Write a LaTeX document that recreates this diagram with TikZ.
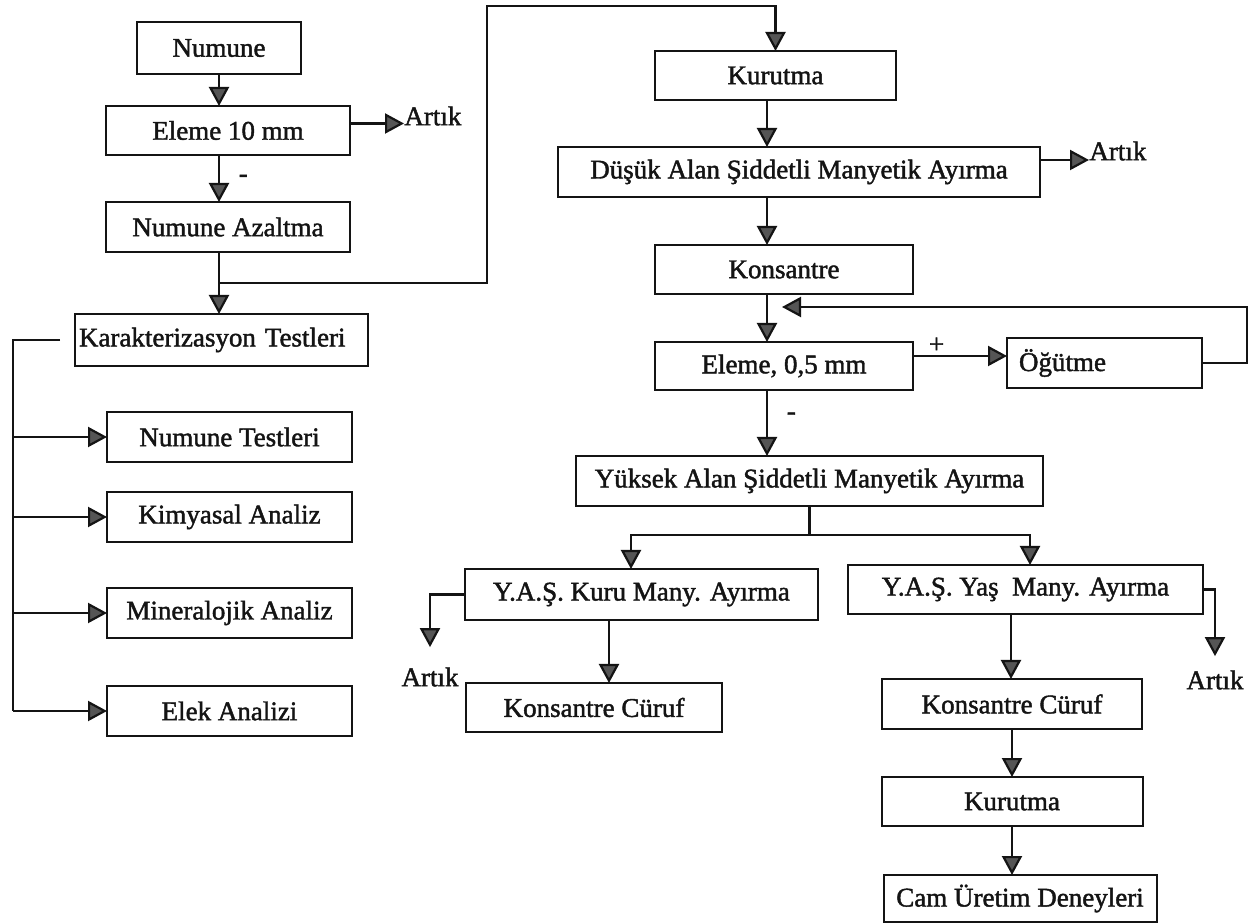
\documentclass[tikz,border=0pt]{standalone}
\usepackage{fontspec}
\setmainfont{Liberation Serif}[FakeBold=1.6]
\usepackage{xcolor}
\definecolor{ink}{HTML}{141414}
\definecolor{tipc}{HTML}{555555}
\usetikzlibrary{arrows.meta,positioning}

\begin{document}
\begin{tikzpicture}[x=0.5pt,y=-0.5pt,every node/.style={font=\fontsize{13.5}{16}\selectfont,text=ink}]
\tikzstyle{box}=[draw=ink,line width=1pt,fill=white,inner sep=2pt,outer sep=0pt,minimum height=25pt,align=center]
\tikzstyle{flow}=[-{Triangle[width=10pt,length=9.5pt,fill=tipc]},draw=ink,line width=1.1pt]
\tikzstyle{wire}=[draw=ink,line width=1.1pt]
\fill[white] (0,0) rectangle (1248,924);
\useasboundingbox (0,0) rectangle (1248,924);
\node[box,minimum width=82pt,minimum height=26pt] (numune) at (219,48) {Numune};
\node[box,minimum width=122pt,minimum height=24.5pt,below=16pt of numune,xshift=4.5pt] (eleme) {Eleme 10 mm};
\node[box,minimum width=122pt,below=23.5pt of eleme] (azaltma) {Numune Azaltma};
\node[box,text width=142.5pt,align=left,minimum height=26pt,below=31pt of azaltma,xshift=-3.25pt] (karakter) {Karakterizasyon Testleri};
\node[box,minimum width=122.5pt,below=23pt of karakter,xshift=4pt] (testleri) {Numune Testleri};
\node[box,minimum width=122.5pt,below=15pt of testleri] (kimyasal) {Kimyasal Analiz};
\node[box,minimum width=122.5pt,below=23pt of kimyasal] (mineral) {Mineralojik Analiz};
\node[box,minimum width=122.5pt,below=24pt of mineral] (elek) {Elek Analizi};
\node[box,minimum width=120.5pt,minimum height=24.5pt] (kurutma) at (775.5,75.5) {Kurutma};
\node[box,minimum width=241pt,below=23.5pt of kurutma,xshift=11.75pt] (dusuk) {Düşük Alan Şiddetli Manyetik Ayırma};
\node[box,minimum width=129pt,minimum height=24.5pt,below=24pt of dusuk,xshift=-7.5pt] (konsantre) {Konsantre};
\node[box,minimum width=129pt,minimum height=24pt,below=24pt of konsantre] (elemeince) {Eleme, 0,5 mm};
\node[box,text width=85.5pt,align=left,inner xsep=6pt,right=47pt of elemeince,yshift=1.5pt] (ogutme) {Öğütme};
\node[box,minimum width=233.5pt,below=33pt of elemeince,xshift=12.75pt] (yuksek) {Yüksek Alan Şiddetli Manyetik Ayırma};
\node[box,minimum width=176.5pt,minimum height=25.5pt,below=31.5pt of yuksek,xshift=-84pt] (kuru) {Y.A.Ş. Kuru Many. Ayırma};
\node[box,minimum width=177.5pt,minimum height=24.5pt,right=15pt of kuru,yshift=2.5pt] (yas) {Y.A.Ş. Yaş\ \ Many. Ayırma};
\node[box,minimum width=128pt,minimum height=24.5pt,below=31.5pt of kuru,xshift=-23.75pt] (curufkuru) {Konsantre Cüruf};
\node[box,minimum width=130pt,below=32.5pt of yas,xshift=-6.75pt] (curufyas) {Konsantre Cüruf};
\node[box,minimum width=130.5pt,minimum height=24.5pt,below=24pt of curufyas] (kurutmason) {Kurutma};
\node[box,minimum width=136.5pt,minimum height=23.5pt,below=24.5pt of kurutmason,xshift=4pt] (cam) {Cam Üretim Deneyleri};
\node[anchor=west,inner sep=0pt] (artik1) at (404,116) {Artık};
\node[anchor=west,inner sep=0pt] (artik2) at (1089,151) {Artık};
\node[inner sep=0pt] (artik3) at (430,677) {Artık};
\node[inner sep=0pt] (artik4) at (1215,680) {Artık};
\coordinate (spine) at (767,0);
\coordinate (tap) at (219,283);
\coordinate (riser) at (487,6);
\coordinate (bus) at (13,0);
\coordinate (loop) at (1247,307);
\coordinate (loopin) at (782,307);
\coordinate (fork) at (809.5,535);
\draw[flow] (numune) -- (eleme.north -| numune);
\draw[flow] ([yshift=3.5pt]eleme.east) -- ([yshift=3.5pt]eleme.east -| artik1.west);
\draw[flow] (eleme.south -| numune) -- node[right=6pt,pos=0.5]{-} (azaltma.north -| numune);
\draw[flow] (azaltma.south -| numune) -- (karakter.north -| numune);
\draw[flow] (tap) -| (riser) -| (kurutma.north);
\draw[wire] ([xshift=-7.5pt]karakter.west) -| (bus |- elek.west);
\foreach \t in {testleri,kimyasal,mineral,elek}
  \draw[flow] (bus |- \t.west) -- (\t.west);
\draw[flow] (kurutma.south -| spine) -- (dusuk.north -| spine);
\draw[flow] ([yshift=6pt]dusuk.east) -- ([yshift=6pt]dusuk.east -| artik2.west);
\draw[flow] (dusuk.south -| spine) -- (konsantre.north -| spine);
\draw[flow] (konsantre.south -| spine) -- (elemeince.north -| spine);
\draw[flow] ([yshift=5pt]elemeince.east) -- node[above,pos=0.25,inner sep=1pt]{+} ([yshift=5pt]elemeince.east -| ogutme.west);
\draw[flow] (ogutme.east) -| (loop) -- (loopin);
\draw[flow] (elemeince.south -| spine) -- node[right=6pt,pos=0.4]{-} (yuksek.north -| spine);
\draw[wire] (yuksek.south) -- (fork);
\draw[flow] (fork) -| ([xshift=-5.25pt]kuru.north);
\draw[flow] (fork) -| ([xshift=2.25pt]yas.north);
\draw[flow] (kuru.west) -| ([yshift=10pt]artik3.north);
\draw[flow] ([xshift=-16.25pt]kuru.south) -- ([xshift=-16.25pt]kuru.south |- curufkuru.north);
\draw[flow] (yas.east) -| ([yshift=7pt]artik4.north);
\draw[flow] ([xshift=-7.25pt]yas.south) -- ([xshift=-7.25pt]yas.south |- curufyas.north);
\draw[flow] (curufyas) -- (kurutmason);
\draw[flow] (kurutmason.south) -- (kurutmason.south |- cam.north);
\end{tikzpicture}
\end{document}
